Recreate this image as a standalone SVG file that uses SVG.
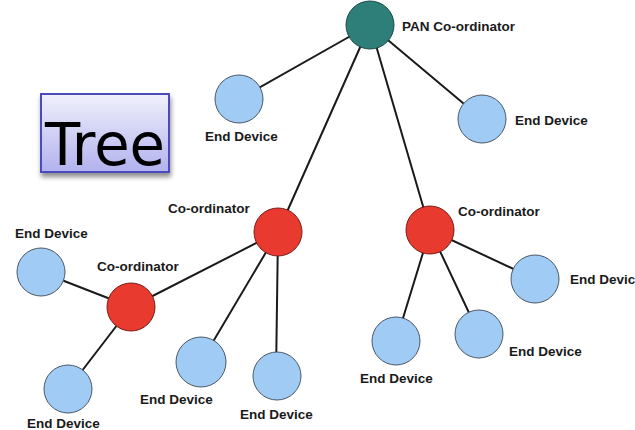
<svg xmlns="http://www.w3.org/2000/svg" width="635" height="430" viewBox="0 0 635 430">
  <defs>
    <linearGradient id="boxFill" x1="0" y1="0" x2="0" y2="1">
      <stop offset="0" stop-color="#f0f0fc"/>
      <stop offset="1" stop-color="#b2b2ee"/>
    </linearGradient>
    <filter id="shadow" x="-20%" y="-20%" width="140%" height="150%">
      <feGaussianBlur in="SourceAlpha" stdDeviation="2.5"/>
      <feOffset dx="1" dy="4" result="b"/>
      <feComponentTransfer><feFuncA type="linear" slope="0.45"/></feComponentTransfer>
      <feMerge><feMergeNode/><feMergeNode in="SourceGraphic"/></feMerge>
    </filter>
  </defs>
  <style>
    .edge { stroke: #1a1a1a; stroke-width: 2; fill: none; stroke-linecap: round; }
    .end { fill: #a0cbf4; stroke: #4b5866; stroke-width: 1; }
    .coord { fill: #e83a2f; stroke: #7a1c14; stroke-width: 1; }
    .pan { fill: #2e7e79; stroke: #1b4a47; stroke-width: 1; }
    .lbl { font-family: "Liberation Sans", Arial, sans-serif; font-weight: bold; font-size: 13.5px; fill: #1a1a1a; }
    .title { font-family: "DejaVu Sans", Verdana, sans-serif; font-size: 58px; fill: #000; }
  </style>
  <rect width="635" height="430" fill="#ffffff"/>

  <!-- title box -->
  <g id="tree-title" filter="url(#shadow)">
    <rect x="41" y="94" width="128" height="78" fill="url(#boxFill)" stroke="#4c4cbf" stroke-width="2"/>
    <text class="title" x="45" y="165" textLength="120" lengthAdjust="spacingAndGlyphs">Tree</text>
  </g>

  <!-- links -->
  <g id="connectors">
    <line class="edge" x1="370" y1="25" x2="239" y2="99"/>
    <line class="edge" x1="370" y1="25" x2="482" y2="119"/>
    <line class="edge" x1="370" y1="25" x2="278" y2="232"/>
    <line class="edge" x1="370" y1="25" x2="430" y2="230"/>
    <line class="edge" x1="278" y1="232" x2="131" y2="307"/>
    <line class="edge" x1="278" y1="232" x2="201" y2="362"/>
    <line class="edge" x1="278" y1="232" x2="276" y2="376"/>
    <line class="edge" x1="131" y1="307" x2="41" y2="272"/>
    <line class="edge" x1="131" y1="307" x2="68" y2="389"/>
    <line class="edge" x1="430" y1="230" x2="535" y2="279"/>
    <line class="edge" x1="430" y1="230" x2="396" y2="341"/>
    <line class="edge" x1="430" y1="230" x2="479" y2="334"/>
  </g>

  <g id="pan-coordinator">
    <circle class="pan" cx="370" cy="25" r="24"/>
    <text class="lbl" x="402" y="31">PAN Co-ordinator</text>
  </g>
  <g id="end-top-left">
    <circle class="end" cx="239" cy="99" r="24"/>
    <text class="lbl" x="205" y="141">End Device</text>
  </g>
  <g id="end-top-right">
    <circle class="end" cx="482" cy="119" r="24"/>
    <text class="lbl" x="515" y="125">End Device</text>
  </g>
  <g id="coordinator-middle">
    <circle class="coord" cx="278" cy="232" r="24"/>
    <text class="lbl" x="168" y="213">Co-ordinator</text>
  </g>
  <g id="coordinator-right">
    <circle class="coord" cx="430" cy="230" r="24"/>
    <text class="lbl" x="458" y="216">Co-ordinator</text>
  </g>
  <g id="coordinator-left">
    <circle class="coord" cx="131" cy="307" r="24"/>
    <text class="lbl" x="97" y="271">Co-ordinator</text>
  </g>
  <g id="end-left">
    <circle class="end" cx="41" cy="272" r="24"/>
    <text class="lbl" x="15" y="238">End Device</text>
  </g>
  <g id="end-bottom-left">
    <circle class="end" cx="68" cy="389" r="24"/>
    <text class="lbl" x="27" y="428">End Device</text>
  </g>
  <g id="end-middle-1">
    <circle class="end" cx="201" cy="362" r="25"/>
    <text class="lbl" x="140" y="404">End Device</text>
  </g>
  <g id="end-middle-2">
    <circle class="end" cx="277" cy="376" r="24"/>
    <text class="lbl" x="240" y="419">End Device</text>
  </g>
  <g id="end-right-1">
    <circle class="end" cx="396" cy="341" r="24"/>
    <text class="lbl" x="360" y="383">End Device</text>
  </g>
  <g id="end-right-2">
    <circle class="end" cx="479" cy="334" r="24"/>
    <text class="lbl" x="509" y="356">End Device</text>
  </g>
  <g id="end-right-3">
    <circle class="end" cx="535" cy="279" r="24"/>
    <text class="lbl" x="570" y="284">End Device</text>
  </g>
</svg>
